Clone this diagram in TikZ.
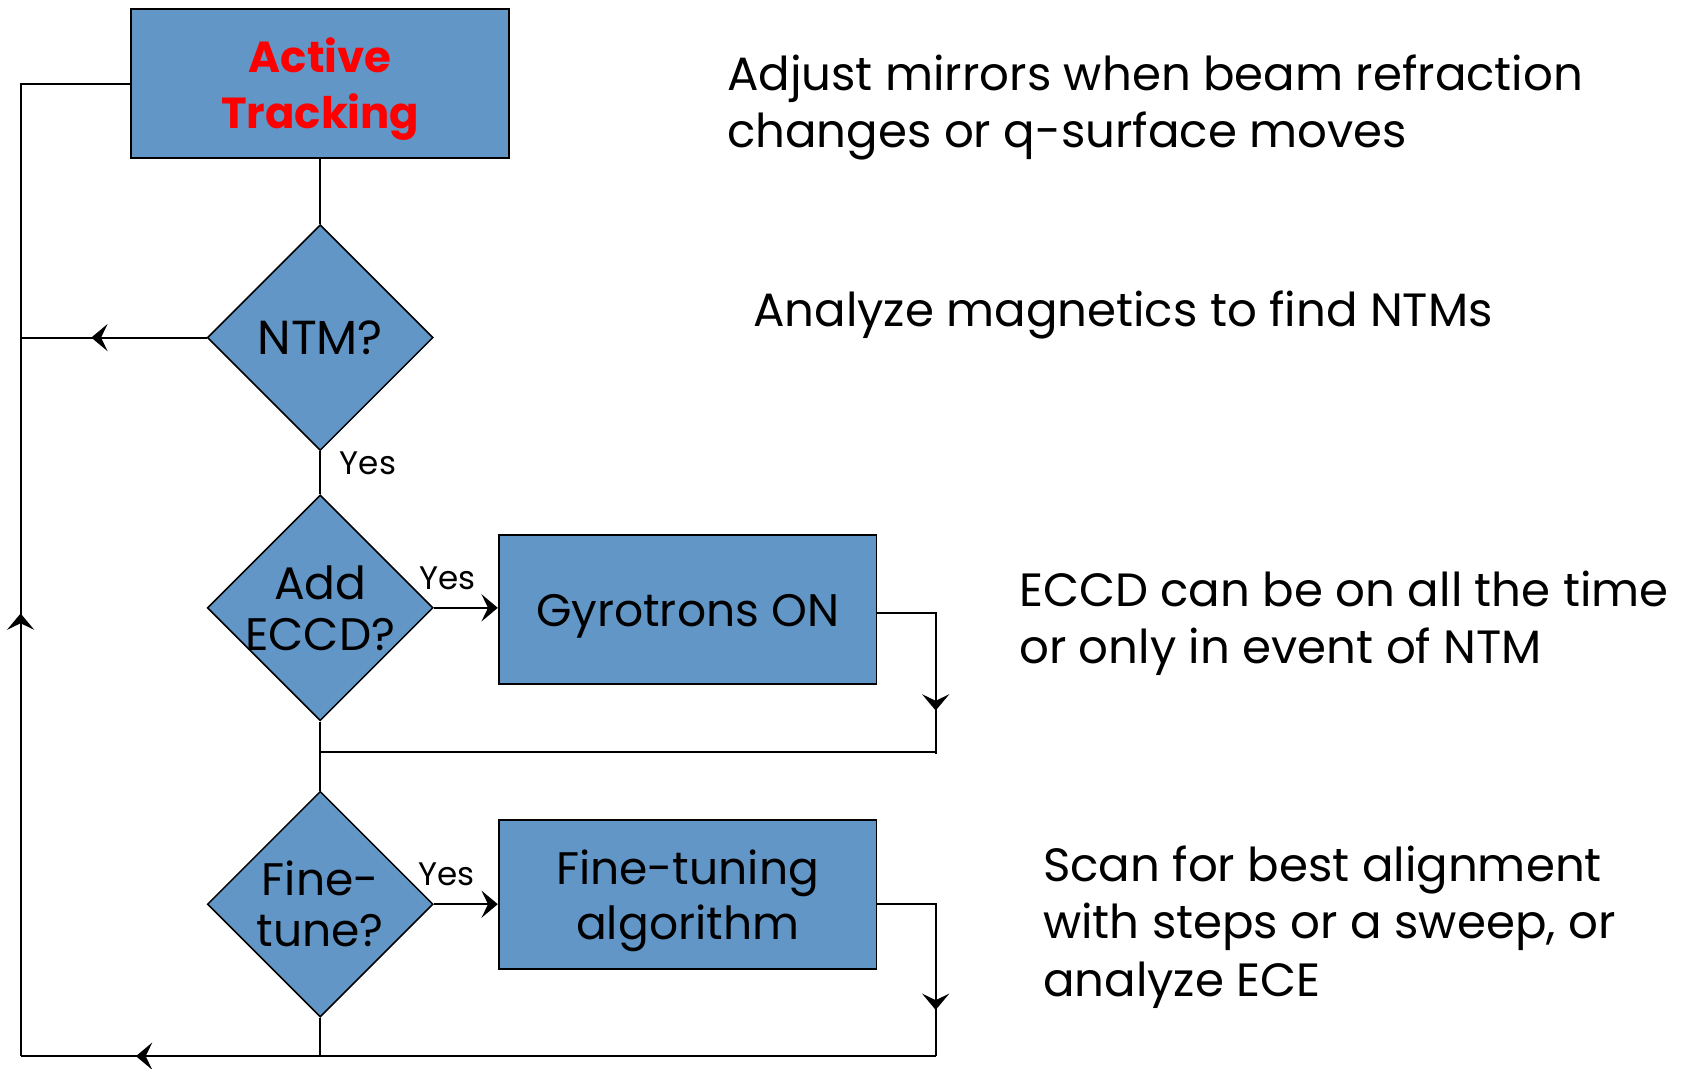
\documentclass[tikz,border=0pt]{standalone}
\usepackage{fontspec}
\setmainfont{Poppins}
\usetikzlibrary{shapes.geometric,arrows.meta,decorations.markings}
\definecolor{boxblue}{RGB}{98,150,199}
\definecolor{trackred}{RGB}{255,0,0}
\begin{document}
\begin{tikzpicture}[x=1pt,y=-1pt,
  line width=1.8pt,
  >={Stealth[length=15pt,width=25pt,inset=6pt]},
  procbox/.style={draw=black, fill=boxblue, rectangle, minimum width=348pt, minimum height=138pt, inner sep=0pt},
  boxtext/.style={align=center, inner sep=0pt, yshift=-6pt, font=\fontsize{42}{51}\selectfont},
  decision/.style={draw=black, fill=boxblue, diamond, aspect=1, minimum width=208pt, minimum height=208pt, inner sep=0pt, line width=1.4pt},
  dtext/.style={align=center, inner sep=0pt, font=\fontsize{42}{47}\selectfont},
  yeslabel/.style={font=\fontsize{30}{32}\selectfont, inner sep=0pt},
  note/.style={align=left, inner sep=0pt, anchor=west, font=\fontsize{43}{52.5}\selectfont},
  midarrow/.style={postaction={decorate,decoration={markings,mark=at position #1 with {\arrow{>}}}}},
]
\useasboundingbox (0,0) rectangle (1568,984);

\node[procbox, label={[boxtext, yshift=1pt, text=trackred, font=\bfseries\fontsize{40}{52}\selectfont]center:Active\\Tracking}] (at) at (295,77) {};
\node[decision, label={[dtext, font=\fontsize{44}{47}\selectfont]center:NTM?}] (ntm) at (295,311) {};
\node[decision, label={[dtext]center:Add\\ECCD?}] (eccd) at (295,560) {};
\node[decision, label={[dtext]center:Fine-\\tune?}] (ft) at (295,833) {};
\node[procbox, label={[boxtext]center:Gyrotrons ON}] (gyro) at (633.5,561.5) {};
\node[procbox, label={[boxtext]center:Fine-tuning\\algorithm}] (ftbox) at (633.5,824) {};

\coordinate (tl) at (19,77);
\coordinate (ntmL) at (19,311);
\coordinate (bl) at (19,973);
\coordinate (bm) at (295,973);
\coordinate (br) at (862,973);
\coordinate (gyroR) at (862,695);
\coordinate (eccdJ) at (295,693);
\coordinate (gyroJ) at (862,693);

\draw (at.south) -- (ntm.north);
\draw[midarrow=0.62] (ntm.west) -- (ntmL);
\draw (ntm.south) -- (eccd.north);
\draw[->] (eccd.east) -- (eccd.east -| gyro.west);
\draw[midarrow=0.78] ([yshift=-3.5pt]gyro.east) -| (gyroR);
\draw (eccd.south) -- (ft.north);
\draw (eccdJ) -- (gyroJ);
\draw[->] (ft.east) -- (ft.east -| ftbox.west);
\draw[midarrow=0.78] (ft.east -| ftbox.east) -| (br);
\draw (ft.south) -- (bm);
\draw[midarrow=0.874] (br) -- (bl);
\draw[midarrow=0.409] (bl) -- (tl) -- (at.west);

\node[yeslabel] (y1) at (339,427) {Yes};
\node[yeslabel] (y2) at (412,533) {Yes};
\node[yeslabel] (y3) at (411,805) {Yes};

\node[note] (n1) at (669,99) {Adjust mirrors when beam refraction\\changes or q-surface moves};
\node[note] (n2) at (693,290) {Analyze magnetics to find NTMs};
\node[note] (n3) at (938,574) {ECCD can be on all the time\\or only in event of NTM};
\node[note, font=\fontsize{43}{53}\selectfont] (n4) at (960,854) {Scan for best alignment\\with steps or a sweep, or\\analyze ECE};
\end{tikzpicture}
\end{document}
